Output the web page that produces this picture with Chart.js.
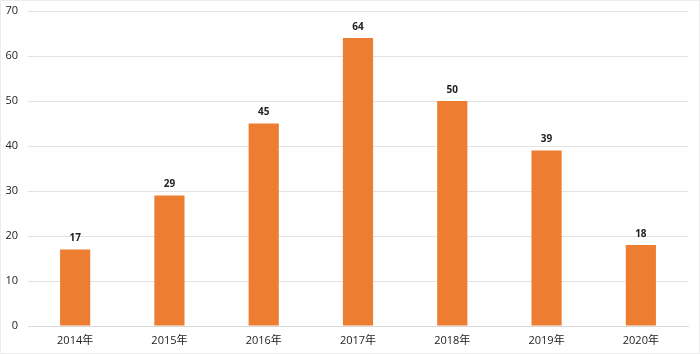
<!DOCTYPE html>
<html><head><meta charset="utf-8">
<script src="https://cdn.jsdelivr.net/npm/chart.js@4"></script>
<style>html,body{margin:0;padding:0;background:#fff}#wrap{width:700px;height:354px}</style>
</head><body><div id="wrap"><canvas id="c" width="700" height="354"></canvas></div>
<script>
const categories = ["2014年","2015年","2016年","2017年","2018年","2019年","2020年"];
const values = [17,29,45,64,50,39,18];
const yTicks = [0,10,20,30,40,50,60,70];

const FONT = '"Open Sans","Noto Sans CJK SC",sans-serif';
const labelPlugin = {
  id: 'labels',
  afterDatasetsDraw(chart) {
    const ctx = chart.ctx;
    const meta = chart.getDatasetMeta(0);
    ctx.save();
    ctx.font = 'bold 10px ' + FONT;
    ctx.fillStyle = '#222';
    ctx.textAlign = 'center';
    ctx.textBaseline = 'bottom';
    meta.data.forEach((bar, i) => {
      ctx.fillText(String(values[i]), bar.x, bar.y - 6);
    });
    ctx.restore();
  },
  afterDraw(chart) {
    const ctx = chart.ctx;
    ctx.save();
    ctx.strokeStyle = '#ececec';
    ctx.lineWidth = 1;
    ctx.strokeRect(0.5, 0.5, chart.width - 1, chart.height - 1);
    ctx.restore();
  }
};

new Chart(document.getElementById('c'), {
  type: 'bar',
  data: { labels: categories, datasets: [{ data: values, backgroundColor: '#ED7D31', borderWidth: 0, categoryPercentage: 1, barPercentage: 0.32 }] },
  options: {
    responsive: false, animation: false,
    layout: { autoPadding: false, padding: { top: 11, right: 12, left: 0, bottom: 0 } },
    plugins: { legend: { display: false }, tooltip: { enabled: false } },
    scales: {
      x: {
        grid: { display: false, drawTicks: false },
        border: { color: '#d9d9d9' },
        ticks: { color: '#222', font: { size: 11, family: FONT }, padding: 8 },
        afterFit(s) { s.height = 28; }
      },
      y: {
        min: 0, max: 70,
        afterBuildTicks(s) { s.ticks = yTicks.map(v => ({ value: v })); },
        grid: { color: '#e3e3e3', drawTicks: false },
        border: { display: false },
        ticks: { color: '#222', font: { size: 11, family: FONT }, padding: 10 },
        afterFit(s) { s.width = 28; s.paddingTop = 0; s.paddingBottom = 0; }
      }
    }
  },
  plugins: [labelPlugin]
});
</script></body></html>
